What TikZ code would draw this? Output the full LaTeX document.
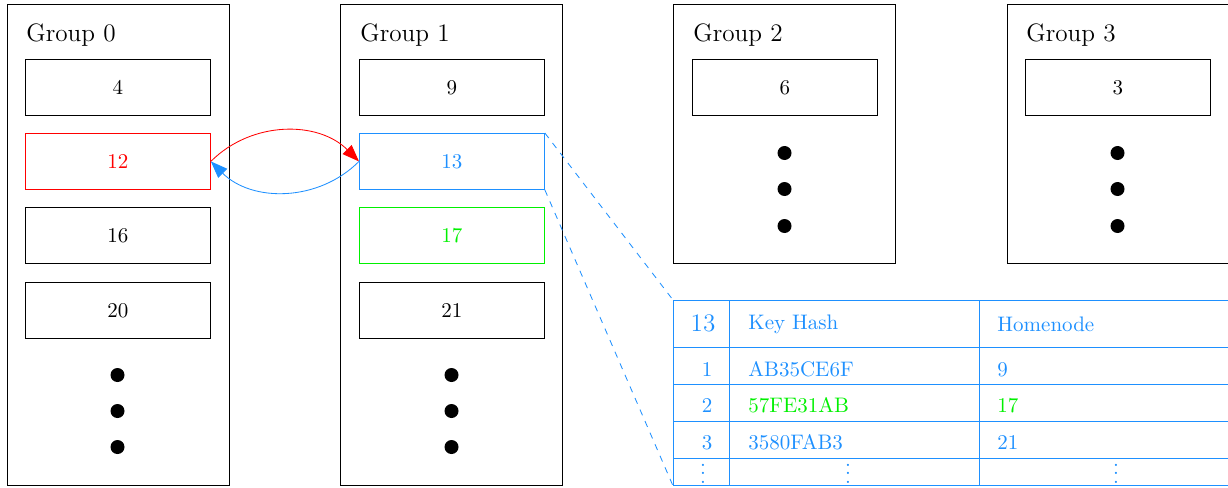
\documentclass[tikz,border=0pt]{standalone}
\usetikzlibrary{arrows.meta}
\definecolor{linkblue}{RGB}{30,144,255}
\definecolor{linkgreen}{RGB}{0,240,0}
\def\px{0.4762pt}
\tikzset{
  group/.style={draw, anchor=north west, inner sep=0pt,
    minimum width=222*\px, minimum height=481*\px},
  shortgroup/.style={group, minimum height=259*\px},
  entry/.style={draw, anchor=north west, inner sep=0pt,
    minimum width=185*\px, minimum height=56*\px},
  glabel/.style={anchor=base west, inner sep=0pt, font=\large},
  dot/.style={circle, fill=black, inner sep=0pt, minimum size=14*\px},
  tab/.style={text=linkblue, inner sep=0pt},
  cell/.style={tab, anchor=base west},
  num/.style={tab, anchor=base},
  link/.style={-{Triangle[length=8pt,width=6pt]}},
}
\begin{document}
\begin{tikzpicture}[x=0.4762pt, y=-0.4762pt]
\useasboundingbox (0,0) rectangle (1228,487);

% ---- Group 0 ----
\node[group] (g0) at (7,4) {};
\node[glabel] (l0) at (26,42) {Group 0};
\node[entry] (b4)  at (25,59)  {4};
\node[entry, draw=red, text=red] (b12) at (25,133) {12};
\node[entry] (b16) at (25,207) {16};
\node[entry] (b20) at (25,282) {20};
\node[dot] (d0a) at (117.5,375) {};
\node[dot] (d0b) at (117.5,411) {};
\node[dot] (d0c) at (117.5,447) {};

% ---- Group 1 ----
\node[group] (g1) at (340,4) {};
\node[glabel] (l1) at (360,42) {Group 1};
\node[entry] (b9)  at (359,59)  {9};
\node[entry, draw=linkblue, text=linkblue] (b13) at (359,133) {13};
\node[entry, draw=linkgreen, text=linkgreen] (b17) at (359,207) {17};
\node[entry] (b21) at (359,282) {21};
\node[dot] (d1a) at (451.5,375) {};
\node[dot] (d1b) at (451.5,411) {};
\node[dot] (d1c) at (451.5,447) {};

% ---- Group 2 ----
\node[shortgroup] (g2) at (673,4) {};
\node[glabel] (l2) at (693,42) {Group 2};
\node[entry] (b6) at (692,59) {6};
\node[dot] (d2a) at (784.5,153) {};
\node[dot] (d2b) at (784.5,189) {};
\node[dot] (d2c) at (784.5,226) {};

% ---- Group 3 ----
\node[shortgroup] (g3) at (1007,4) {};
\node[glabel] (l3) at (1026,42) {Group 3};
\node[entry] (b3) at (1025,59) {3};
\node[dot] (d3a) at (1117.5,153) {};
\node[dot] (d3b) at (1117.5,189) {};
\node[dot] (d3c) at (1117.5,226) {};

% ---- lookups between 12 and 13 ----
\draw[red, link] (b12.east) to[bend left=45] (b13.west);
\draw[linkblue, link] (b13.west) to[bend left=45] (b12.east);

% ---- routing table of node 13 ----
\node[draw=linkblue, anchor=north west, inner sep=0pt,
      minimum width=556*\px, minimum height=185*\px] (tbl) at (673,300) {};
\draw[linkblue] (673,347) -- (1229,347)
                (673,384) -- (1229,384)
                (673,421) -- (1229,421)
                (673,458) -- (1229,458)
                (729,300) -- (729,485)
                (979,300) -- (979,485);

\draw[linkblue, dashed] (b13.north east) -- (tbl.north west);
\draw[linkblue, dashed] (b13.south east) -- (tbl.south west);

\node[num, font=\large] (h0) at (703,331) {13};
\node[cell] (h1) at (748,329) {Key Hash};
\node[cell] (h2) at (997,331) {Homenode};

\node[num] (r1) at (707,376) {1};
\node[cell] (k1) at (748,376) {AB35CE6F};
\node[cell] (n1) at (997,376) {9};

\node[num] (r2) at (707,412) {2};
\node[cell, text=linkgreen] (k2) at (748,412) {57FE31AB};
\node[cell, text=linkgreen] (n2) at (997,412) {17};

\node[num] (r3) at (707,449) {3};
\node[cell] (k3) at (748,449) {3580FAB3};
\node[cell] (n3) at (997,449) {21};

\node[num] (v1) at (703,483) {\vdots};
\node[num] (v2) at (848,483) {\vdots};
\node[num] (v3) at (1116,483) {\vdots};
\end{tikzpicture}
\end{document}
